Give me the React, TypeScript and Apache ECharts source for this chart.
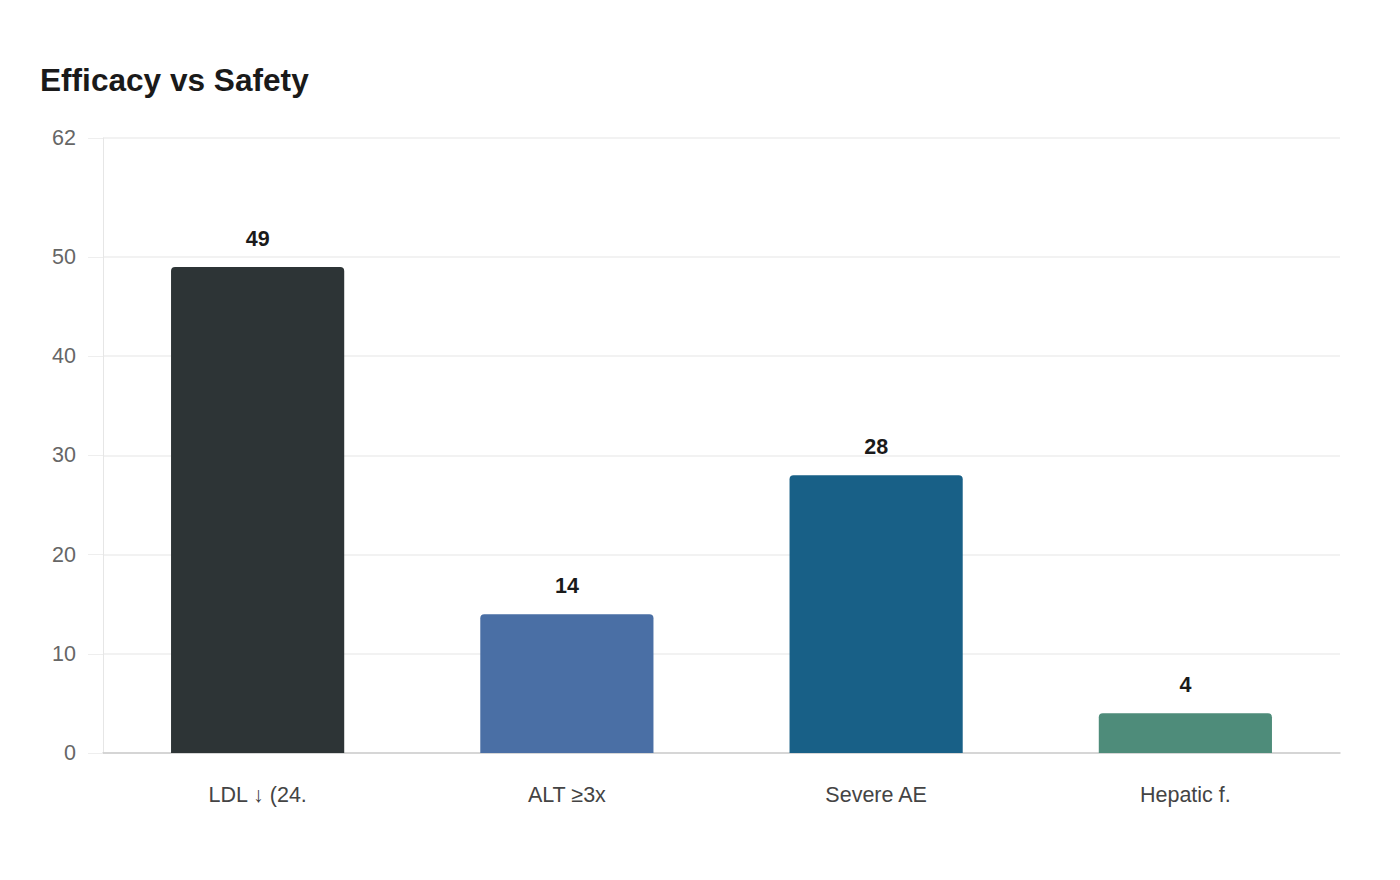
import React, { useEffect, useRef } from "react";
import * as echarts from "echarts";

const categories = ["LDL ↓ (24.", "ALT ≥3x", "Severe AE", "Hepatic f."];
const values = [49, 14, 28, 4];
const barColors = ["#2d3436", "#4a6fa5", "#186087", "#4e8c7a"];
const yTicks = [0, 10, 20, 30, 40, 50, 62];

const FONT = "Liberation Sans, Arial, sans-serif";

export default function App() {
  const ref = useRef<HTMLDivElement>(null);
  useEffect(() => {
    if (!ref.current) return;
    const chart = echarts.init(ref.current, null, { renderer: "svg" });
    chart.setOption({
      animation: false,
      backgroundColor: "#ffffff",
      title: {
        text: "Efficacy vs Safety",
        left: 35,
        top: 59,
        textStyle: {
          fontFamily: FONT,
          fontSize: 31.6,
          fontWeight: "bold",
          color: "#1a1a1a",
        },
      },
      grid: { left: 103, right: 60, top: 138, bottom: 127 },
      xAxis: {
        type: "category",
        data: categories,
        axisLine: { show: true, lineStyle: { color: "#cccccc", width: 1.5 } },
        axisTick: { show: false },
        axisLabel: {
          margin: 31,
          fontFamily: FONT,
          fontSize: 21.5,
          color: "#444444",
        },
      },
      yAxis: {
        type: "value",
        min: 0,
        max: 62,
        interval: 10,
        axisLine: { show: true, lineStyle: { color: "#e6e6e6" } },
        axisTick: { show: true, length: 15, lineStyle: { color: "#eeeeee" }, customValues: yTicks },
        splitLine: { show: true, lineStyle: { color: "#eeeeee", width: 1.5 }, customValues: yTicks },
        axisLabel: {
          margin: 27,
          fontFamily: FONT,
          fontSize: 21.5,
          color: "#666666",
          customValues: yTicks,
        },
      },
      series: [
        {
          type: "bar",
          barWidth: "56%",
          data: values.map((v, i) => ({
            value: v,
            itemStyle: { color: barColors[i], borderRadius: [4, 4, 0, 0] },
          })),
          label: {
            show: true,
            position: "top",
            distance: 17,
            fontFamily: FONT,
            fontSize: 21.5,
            fontWeight: "bold",
            color: "#1a1a1a",
          },
        },
      ],
    });
    return () => chart.dispose();
  }, []);
  return (
    <div
      ref={ref}
      style={{ position: "fixed", left: 0, top: 0, width: 1400, height: 880, background: "#fff" }}
    />
  );
}
